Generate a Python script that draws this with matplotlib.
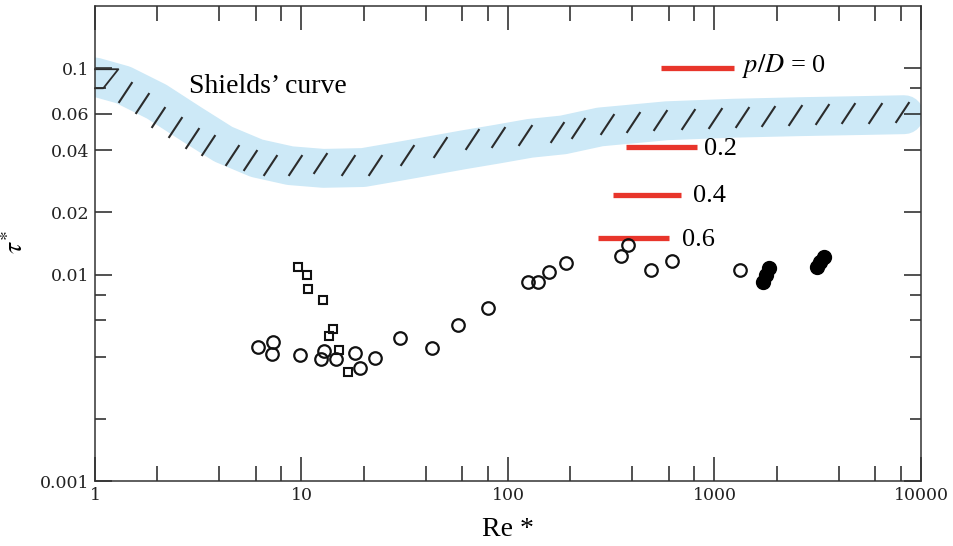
import numpy as np
import matplotlib
matplotlib.use('Agg')
import matplotlib.pyplot as plt
from matplotlib.path import Path
from matplotlib.ticker import NullFormatter

plt.rcParams['font.family'] = 'serif'
plt.rcParams['font.serif'] = ['Liberation Serif', 'DejaVu Serif']
plt.rcParams['mathtext.fontset'] = 'stix'

# Shields' band centreline (Re*, tau*)
band_re = [1.0, 1.371, 1.99, 2.884, 4.181, 6.068, 8.797, 12.75, 19.92, 28.91, 41.9,
           60.75, 88.2, 127.8, 185.3, 279, 586.8, 1233, 2594, 5458, 8300]
band_tau = [0.0906, 0.0829, 0.0688, 0.0541, 0.0428, 0.0366, 0.0337, 0.0327, 0.0330,
            0.0352, 0.0376, 0.0402, 0.0428, 0.0457, 0.0475, 0.0519, 0.0556, 0.0572,
            0.0582, 0.0590, 0.0595]

# hatch strokes inside the band
hatch_re = [1.397, 1.684, 2.025, 2.44, 2.939, 3.538, 4.592, 5.631, 7.038, 9.301, 12.29,
            16.85, 22.7, 32.31, 46.86, 66.7, 89.8, 120.9, 172.1, 218.3, 300.6, 404.5,
            544.6, 746.8, 1006, 1354, 1822, 2454, 3304, 4446, 5987, 8064]
hatch_tau = [0.0769, 0.0676, 0.0582, 0.0521, 0.0457, 0.0424, 0.038, 0.0359, 0.034, 0.034,
             0.0346, 0.034, 0.034, 0.038, 0.0417, 0.0452, 0.0466, 0.0475, 0.0492, 0.0513,
             0.0537, 0.0549, 0.0561, 0.0567, 0.0574, 0.058, 0.0587, 0.0593, 0.06, 0.0603,
             0.0607, 0.061]

# little boundary piece at the upper left of the band
corner_re = [1.0, 1.297, 1.097, 1.0]
corner_tau = [0.0988, 0.0988, 0.0799, 0.0799]

# experimental points
circ_re = [6.18, 7.30, 7.22, 9.83, 12.89, 12.43, 14.64, 18.16, 19.2, 22.7, 30.0, 42.7,
           57.1, 80.3, 124.6, 140.2, 158, 190.3, 350.6, 381, 492.6, 620.4, 1329]
circ_tau = [0.00447, 0.00473, 0.00413, 0.00408, 0.00426, 0.00389, 0.00389, 0.00416,
            0.00352, 0.00393, 0.00491, 0.0044, 0.0057, 0.00687, 0.00918, 0.00918,
            0.01033, 0.01134, 0.01237, 0.01384, 0.01052, 0.01168, 0.01052]

square_re = [9.65, 10.6, 10.72, 12.67, 14.16, 13.63, 15.19, 16.85]
square_tau = [0.01092, 0.00995, 0.00849, 0.00753, 0.00545, 0.00504, 0.00431, 0.00339]

filled_re = [1712, 1776, 1843, 3125, 3258, 3391]
filled_tau = [0.00924, 0.00995, 0.01073, 0.01092, 0.01155, 0.0122]

# red p/D levels
pd_text = ['$p/D$ = 0', '0.2', '0.4', '0.6']
pd_tau = [0.1, 0.0415, 0.0242, 0.0150]
pd_re_lo = [553, 371, 321, 274]
pd_re_hi = [1248, 827, 692, 605]
pd_text_re = [1359, 889, 787, 694]
pd_text_tau = [0.0962, 0.038, 0.02247, 0.01376]

xmajor = [1, 10, 100, 1000, 10000]
xmajor_labels = ['1', '10', '100', '1000', '10000']
xminor = [m * d for d in [1, 10, 100, 1000] for m in [2, 4, 6, 8]]
ymajor = [0.001, 0.01, 0.02, 0.04, 0.06, 0.1]
ymajor_labels = ['0.001', '0.01', '0.02', '0.04', '0.06', '0.1']
yminor = [0.002, 0.004, 0.006, 0.008, 0.08]

fig = plt.figure(figsize=(9.54, 5.46), dpi=100)
ax = fig.add_axes([95 / 954, 1 - 481 / 546, 826 / 954, 475 / 546])
ax.set_xscale('log')
ax.set_yscale('log')
ax.set_xlim(1, 10000)
ax.set_ylim(0.001, 0.2)

# band + hatching
ax.plot(band_re, band_tau, color='#cde9f7', lw=28, solid_capstyle='round',
        solid_joinstyle='round', zorder=1)
hatch = Path([(-0.33, -0.5), (0.33, 0.5)], [Path.MOVETO, Path.LINETO])
ax.plot(hatch_re, hatch_tau, ls='none', marker=hatch, ms=15, mew=1.5,
        mec='#2b2b2b', zorder=2)
ax.plot(corner_re, corner_tau, color='#2b2b2b', lw=1.3, zorder=2, clip_on=False)
ax.text(2.85, 0.0761, 'Shields\u2019 curve', fontsize=20, va='baseline', ha='left')

# red bars
for i in range(len(pd_tau)):
    ax.plot([pd_re_lo[i], pd_re_hi[i]], [pd_tau[i], pd_tau[i]], color='#e8352b',
            lw=3.8, solid_capstyle='butt', zorder=3)
    ax.text(pd_text_re[i], pd_text_tau[i], pd_text[i], fontsize=19, va='baseline',
            ha='left')

# data
ax.plot(circ_re, circ_tau, ls='none', marker='o', ms=9, mfc='none', mec='#111111',
        mew=1.6, zorder=4)
ax.plot(square_re, square_tau, ls='none', marker='s', ms=6, mfc='none', mec='#111111',
        mew=1.5, zorder=4)
ax.plot(filled_re, filled_tau, ls='none', marker='o', ms=10, color='#000000', zorder=4)

# ticks
ax.set_xticks(xmajor, labels=xmajor_labels)
ax.set_xticks(xminor, minor=True)
ax.set_yticks(ymajor, labels=ymajor_labels)
ax.set_yticks(yminor, minor=True)
ax.xaxis.set_minor_formatter(NullFormatter())
ax.yaxis.set_minor_formatter(NullFormatter())
ax.tick_params(axis='both', which='both', direction='in', top=True, right=True,
               colors='#222222', width=1.1, labelfontfamily='DejaVu Serif',
               labelsize=12.5)
ax.tick_params(axis='x', which='major', length=17, pad=4)
ax.tick_params(axis='x', which='minor', length=11)
ax.tick_params(axis='y', which='major', length=12, pad=4)
ax.tick_params(axis='y', which='minor', length=8)
for s in ax.spines.values():
    s.set_linewidth(1.1)
    s.set_color('#333333')

ax.set_xlabel('Re *', fontsize=20, labelpad=10)
fig.text(16 / 954, 1 - 242 / 546, r'$\tau^{*}$', fontsize=20, rotation=90,
         ha='center', va='center')

fig.savefig('out.png', dpi=100)
